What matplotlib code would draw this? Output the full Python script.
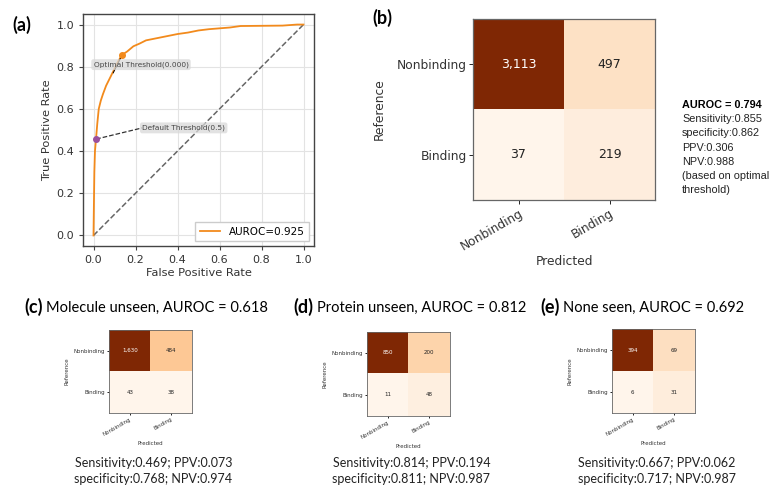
import numpy as np
import matplotlib
matplotlib.use("Agg")
import matplotlib.pyplot as plt

# ---------------- data ----------------
fpr = [0, 0.002, 0.004, 0.007, 0.012, 0.018, 0.025, 0.035, 0.045, 0.06, 0.08, 0.1,
       0.12, 0.137, 0.16, 0.19, 0.22, 0.25, 0.3, 0.35, 0.4, 0.45, 0.5, 0.55, 0.6,
       0.65, 0.7, 0.8, 0.9, 0.97, 1.0]
tpr = [0, 0.15, 0.3, 0.4, 0.457, 0.53, 0.6, 0.64, 0.67, 0.71, 0.75, 0.79,
       0.83, 0.857, 0.872, 0.897, 0.91, 0.925, 0.935, 0.945, 0.955, 0.962, 0.972, 0.978, 0.982,
       0.986, 0.993, 0.994, 0.995, 1.0, 1.0]
auroc_a = 0.925
optimal_pt = (0.137, 0.857)
default_pt = (0.013, 0.457)

classes = ["Nonbinding", "Binding"]
cm_b = [[3113, 497], [37, 219]]
stats_b = ["Sensitivity:0.855", "specificity:0.862", "PPV:0.306", "NPV:0.988",
           "(based on optimal", "threshold)"]
auroc_b = 0.794

cm_c = [[1630, 484], [43, 38]]
cm_d = [[850, 200], [11, 48]]
cm_e = [[394, 69], [6, 31]]
titles_cde = ["Molecule unseen, AUROC = 0.618", "Protein unseen, AUROC = 0.812",
              "None seen, AUROC = 0.692"]
letters_cde = ["(c)", "(d)", "(e)"]
stats_cde = [["Sensitivity:0.469; PPV:0.073", "specificity:0.768; NPV:0.974"],
             ["Sensitivity:0.814; PPV:0.194", "specificity:0.811; NPV:0.987"],
             ["Sensitivity:0.667; PPV:0.062", "specificity:0.717; NPV:0.987"]]

W, H = 773, 486
fig = plt.figure(figsize=(W / 100, H / 100), dpi=100)


def px_axes(l, t, r, b):
    return fig.add_axes([l / W, 1 - b / H, (r - l) / W, (b - t) / H])


# ---------------- panel (a) ----------------
ax = px_axes(83, 14, 314, 246)
ax.set_xlim(-0.05, 1.05)
ax.set_ylim(-0.05, 1.05)
ax.grid(True, color="#e3e3e3", lw=0.8)
ax.set_axisbelow(True)
ax.plot([0, 1], [0, 1], ls="--", color="#666666", lw=1.1)
ax.plot(fpr, tpr, color="#f28a1c", lw=1.3, label=f"AUROC={auroc_a}")
ax.plot([optimal_pt[0], 0.094], [optimal_pt[1], 0.771], color="black", lw=0.7, zorder=3)
ax.plot([default_pt[0], 0.232], [default_pt[1], 0.51], color="#333333", lw=0.9,
        ls="--", zorder=3)
ax.plot(*optimal_pt, "o", color="#f28a1c", ms=4, zorder=5)
ax.plot(*default_pt, "o", color="#9b4f9e", ms=4, zorder=5)
bb = dict(boxstyle="round,pad=0.3", fc="#d9d9d9", ec="none", alpha=0.75)
ax.text(0.0, 0.81, "Optimal Threshold(0.000)", fontsize=5.3, color="#444444",
        va="center", ha="left", bbox=bb, zorder=4)
ax.text(0.232, 0.51, "Default Threshold(0.5)", fontsize=5.3, color="#444444",
        va="center", ha="left", bbox=bb, zorder=4)
ax.set_xticks(np.arange(0, 1.01, 0.2))
ax.set_yticks(np.arange(0, 1.01, 0.2))
ax.tick_params(labelsize=8, length=3, color="#444444", labelcolor="#333333")
for s in ax.spines.values():
    s.set_color("#444444")
    s.set_linewidth(1.0)
ax.set_xlabel("False Positive Rate", fontsize=8.2, color="#333333", labelpad=2)
ax.set_ylabel("True Positive Rate", fontsize=8.2, color="#333333", labelpad=3)
leg = ax.legend(loc="lower right", fontsize=7.5, handlelength=2.0, borderpad=0.4,
                fancybox=False, edgecolor="#cccccc", framealpha=1)
fig.text(12 / W, 1 - 25 / H, "(a)", fontsize=13, fontweight="bold", family="Lato",
         va="center", ha="left")


# ---------------- confusion matrices ----------------
def draw_cm(ax, mat, fs, lab_fs, xpad, ypad):
    mat = np.array(mat)
    ax.imshow(mat, cmap="Oranges", aspect="auto", vmin=mat.min(), vmax=mat.max())
    for i in range(2):
        for j in range(2):
            v = mat[i, j]
            col = "white" if v == mat.max() else "#222222"
            ax.text(j, i, f"{v:,}", ha="center", va="center", fontsize=fs, color=col)
    ax.set_xticks([0, 1])
    ax.set_yticks([0, 1])
    ax.set_xticklabels(classes, rotation=30, ha="right", rotation_mode="anchor",
                       fontsize=lab_fs, color="#333333")
    ax.set_yticklabels(classes, fontsize=lab_fs, color="#333333")
    ax.set_xlabel("Predicted", fontsize=lab_fs, color="#333333", labelpad=xpad)
    ax.set_ylabel("Reference", fontsize=lab_fs, color="#333333", labelpad=ypad)
    ax.tick_params(length=lab_fs * 0.35, width=0.6, pad=1 + lab_fs * 0.05)
    for s in ax.spines.values():
        s.set_color("#666666")
        s.set_linewidth(0.9 if lab_fs > 6 else 0.6)


axb = px_axes(473, 19, 655, 200)
draw_cm(axb, cm_b, 9, 8.8, 2, 8)
fig.text(372 / W, 1 - 18 / H, "(b)", fontsize=13, fontweight="bold", family="Lato",
         va="center", ha="left")
fig.text(682 / W, 1 - 105 / H, f"AUROC = {auroc_b}", fontsize=7.8, fontweight="bold",
         family="Liberation Sans", va="center", ha="left")
for k, line in enumerate(stats_b):
    fig.text(682 / W, 1 - (105 + 14.2 * (k + 1)) / H, line, fontsize=7.8,
             family="Liberation Sans", va="center", ha="left", color="#222222")

boxes = [(109, 330, 192, 413), (367, 332, 450, 416), (612, 329, 695, 413)]
title_x = [24, 293, 540]
for mat, (l, t, r, b), tx, let, ttl, st in zip([cm_c, cm_d, cm_e], boxes, title_x,
                                                letters_cde, titles_cde, stats_cde):
    a = px_axes(l, t, r, b)
    draw_cm(a, mat, 4, 4, 3, 3)
    tl = fig.text(tx / W, 1 - 307 / H, let, fontsize=13, fontweight="bold",
                  family="Lato", va="center", ha="left")
    r_ = fig.canvas.get_renderer()
    ext = tl.get_window_extent(renderer=r_)
    fig.text((ext.x1 + 4) / W, 1 - 308 / H, ttl, fontsize=10.5, family="Lato",
             va="center", ha="left")
    cx = (l + r) / 2 + 3
    fig.text(cx / W, 1 - 463 / H, st[0], fontsize=9, family="Lato", va="center",
             ha="center", color="#222222")
    fig.text(cx / W, 1 - 479 / H, st[1], fontsize=9, family="Lato", va="center",
             ha="center", color="#222222")

fig.savefig("out.png", dpi=100)
